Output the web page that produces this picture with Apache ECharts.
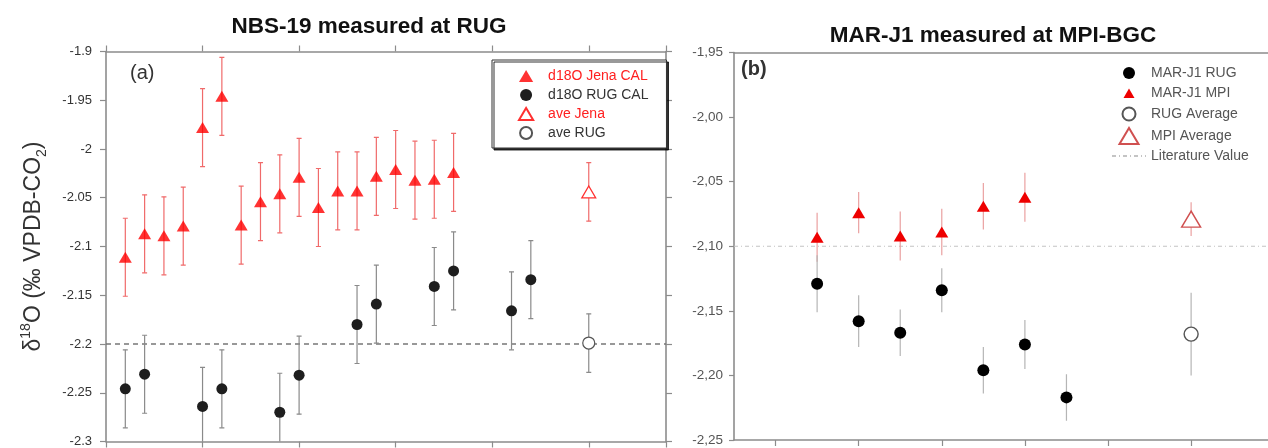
<!DOCTYPE html>
<html>
<head>
<meta charset="utf-8">
<script src="https://cdn.jsdelivr.net/npm/echarts@6/dist/echarts.min.js"></script>
<style>
  html, body { margin: 0; padding: 0; background: #fff; }
  #chart { width: 1268px; height: 448px; }
</style>
</head>
<body>
<div id="chart"></div>
<script>
// ---- panel (a): NBS-19 measured at RUG ----
const jenaX = [1, 2, 3, 4, 5, 6, 7, 8, 9, 10, 11, 12, 13, 14, 15, 16, 17, 18];
const jenaY = [-2.111, -2.087, -2.089, -2.079, -1.978, -1.946, -2.078, -2.054, -2.046,
               -2.029, -2.060, -2.043, -2.043, -2.028, -2.021, -2.032, -2.031, -2.024];
const jenaErr = [0.04, 0.04, 0.04, 0.04, 0.04, 0.04, 0.04, 0.04, 0.04,
                 0.04, 0.04, 0.04, 0.04, 0.04, 0.04, 0.04, 0.04, 0.04];
const rugX = [1, 2, 5, 6, 9, 10, 13, 14, 17, 18, 21, 22];
const rugY = [-2.246, -2.231, -2.264, -2.246, -2.270, -2.232, -2.180, -2.159, -2.141, -2.125, -2.166, -2.134];
const rugErr = [0.04, 0.04, 0.04, 0.04, 0.04, 0.04, 0.04, 0.04, 0.04, 0.04, 0.04, 0.04];
const aveJena = [25, -2.044, 0.03];   // x, value, error
const aveRug = [25, -2.199, 0.03];
const refA = -2.2;

// ---- panel (b): MAR-J1 measured at MPI-BGC ----
const mpiX = [2, 3, 4, 5, 6, 7];
const mpiY = [-2.093, -2.074, -2.092, -2.089, -2.069, -2.062];
const mpiErr = [0.019, 0.016, 0.019, 0.018, 0.018, 0.019];
const rugBX = [2, 3, 4, 5, 6, 7, 8];
const rugBY = [-2.129, -2.158, -2.167, -2.134, -2.196, -2.176, -2.217];
const rugBErr = [0.022, 0.020, 0.018, 0.017, 0.018, 0.019, 0.018];
const rugAvgB = [11, -2.168, 0.032];
const mpiAvgB = [11, -2.079, 0.013];
const literature = -2.10;
const bTicks = [1, 3, 5, 7, 9, 11];

const FONT = 'Liberation Sans, Arial, Helvetica, sans-serif';
const AXIS_COLOR = '#8c8c8c';

// legend icons (the leading moves keep a fixed box so the mark keeps its size)
const TRI = 'path://M0,11L6.5,0L13,11Z';
const TRI_SMALL = 'path://M0,0M16,16M2.5,13L8,3.5L13.5,13Z';
const TRI_BIG = 'path://M0,16L9.5,0L19,16Z';
const DOT_12 = 'path://M0,0M16,16M8,2A6,6,0,1,1,8,14A6,6,0,1,1,8,2Z';
const DOT_13 = 'path://M0,0M16,16M8,1.5A6.5,6.5,0,1,1,8,14.5A6.5,6.5,0,1,1,8,1.5Z';

const chart = echarts.init(document.getElementById('chart'));

function pts(xs, ys) { return xs.map((x, i) => [x, ys[i]]); }
function bars(xs, ys, es) { return xs.map((x, i) => [x, ys[i] - es[i], ys[i] + es[i]]); }

function errorSeries(data, xi, yi, color, cap) {
  return {
    type: 'custom',
    xAxisIndex: xi,
    yAxisIndex: yi,
    clip: true,
    silent: true,
    z: 1,
    data: data,
    encode: { x: 0, y: [1, 2] },
    renderItem: function (params, api) {
      const x = api.value(0);
      const lo = api.coord([x, api.value(1)]);
      const hi = api.coord([x, api.value(2)]);
      const style = { stroke: color, lineWidth: 1.2 };
      const children = [{ type: 'line', shape: { x1: lo[0], y1: lo[1], x2: hi[0], y2: hi[1] }, style: style }];
      if (cap) {
        children.push({ type: 'line', shape: { x1: lo[0] - cap, y1: lo[1], x2: lo[0] + cap, y2: lo[1] }, style: style });
        children.push({ type: 'line', shape: { x1: hi[0] - cap, y1: hi[1], x2: hi[0] + cap, y2: hi[1] }, style: style });
      }
      return { type: 'group', children: children };
    }
  };
}

function frameAxis(extra) {
  return Object.assign({
    type: 'value',
    axisLine: { show: true, onZero: false, lineStyle: { color: AXIS_COLOR, width: 1.6 } },
    axisTick: { show: true, inside: false, length: 6, lineStyle: { color: AXIS_COLOR, width: 1.2 } },
    axisLabel: { show: false },
    splitLine: { show: false }
  }, extra);
}

const option = {
  animation: false,
  textStyle: { fontFamily: FONT },
  title: [
    {
      text: 'NBS-19 measured at RUG',
      left: 364, top: 10, textAlign: 'center',
      textStyle: { fontSize: 22.5, fontWeight: 'bold', color: '#111', fontFamily: FONT }
    },
    {
      text: 'MAR-J1 measured at MPI-BGC',
      left: 988, top: 19, textAlign: 'center',
      textStyle: { fontSize: 22.5, fontWeight: 'bold', color: '#111', fontFamily: FONT }
    }
  ],
  grid: [
    { left: 106, top: 51.5, width: 560, height: 391.5 },
    { left: 734, top: 52.5, width: 534, height: 387.5 }
  ],
  legend: [
    {
      orient: 'vertical',
      left: 492, top: 60,
      padding: [9, 18, 8, 26],
      itemWidth: 34, itemHeight: 12, itemGap: 5,
      backgroundColor: '#fff',
      borderColor: '#333', borderWidth: 1,
      shadowColor: 'rgba(0,0,0,0.8)', shadowOffsetX: 2, shadowOffsetY: 2, shadowBlur: 0,
      selectedMode: false,
      textStyle: { fontSize: 14, fontFamily: FONT },
      data: [
        { name: 'd18O Jena CAL', icon: TRI, textStyle: { color: '#ff2020' } },
        { name: 'd18O RUG CAL', textStyle: { color: '#333' } },
        { name: 'ave Jena', icon: TRI, textStyle: { color: '#ff2020' } },
        { name: 'ave RUG', textStyle: { color: '#333' } }
      ]
    },
    {
      orient: 'vertical',
      left: 1111, top: 65,
      padding: 0,
      itemWidth: 34, itemHeight: 16, itemGap: 4,
      selectedMode: false,
      textStyle: { fontSize: 14, color: '#555', fontFamily: FONT },
      data: [
        { name: 'MAR-J1 RUG', icon: DOT_12 },
        { name: 'MAR-J1 MPI', icon: TRI_SMALL },
        { name: 'RUG Average', icon: DOT_13 },
        { name: 'MPI Average', icon: TRI_BIG },
        { name: 'Literature Value' }
      ]
    }
  ],
  xAxis: [
    frameAxis({ gridIndex: 0, position: 'bottom', min: 0, max: 29, interval: 5 }),
    frameAxis({ gridIndex: 0, position: 'top', min: 0, max: 29, interval: 5 }),
    frameAxis({ gridIndex: 1, position: 'bottom', min: 0, max: 12.85,
      axisTick: { show: true, inside: false, length: 6, customValues: bTicks, lineStyle: { color: AXIS_COLOR, width: 1.2 } } }),
    frameAxis({ gridIndex: 1, position: 'top', min: 0, max: 12.85, axisTick: { show: false } })
  ],
  yAxis: [
    frameAxis({
      gridIndex: 0, position: 'left', min: -2.3, max: -1.9, interval: 0.05,
      axisLabel: { show: true, fontSize: 13, color: '#333', margin: 14, fontFamily: FONT },
      name: '{a|δ}{sup|18}{a|O (‰ VPDB-CO}{sub|2}{a|)}',
      nameLocation: 'middle', nameRotate: 90, nameGap: 57,
      nameTextStyle: {
        color: '#333', fontSize: 23, fontFamily: FONT,
        rich: {
          a: { fontSize: 23, color: '#333', lineHeight: 30, fontFamily: FONT },
          sup: { fontSize: 14, color: '#333', lineHeight: 14, verticalAlign: 'top', fontFamily: FONT },
          sub: { fontSize: 14, color: '#333', lineHeight: 14, verticalAlign: 'bottom', fontFamily: FONT }
        }
      }
    }),
    frameAxis({ gridIndex: 0, position: 'right', min: -2.3, max: -1.9, interval: 0.05 }),
    frameAxis({
      gridIndex: 1, position: 'left', min: -2.25, max: -1.95, interval: 0.05,
      axisTick: { show: true, inside: false, length: 5, lineStyle: { color: AXIS_COLOR, width: 1.2 } },
      axisLabel: {
        show: true, fontSize: 13.5, color: '#555', margin: 11, fontFamily: FONT,
        formatter: v => v.toFixed(2).replace('.', ',')
      }
    })
  ],
  graphic: [
    { type: 'text', left: 130, top: 63, style: { text: '(a)', font: '20px ' + FONT, fill: '#333' } },
    { type: 'text', left: 741, top: 59, style: { text: '(b)', font: 'bold 20px ' + FONT, fill: '#333' } }
  ],
  series: [
    // ---- panel (a)
    {
      name: 'ref a', type: 'line', xAxisIndex: 0, yAxisIndex: 0, symbol: 'none', silent: true, z: 0,
      lineStyle: { color: '#777', width: 1.5, type: [5, 4] },
      data: [[0, refA], [29, refA]]
    },
    errorSeries(bars(jenaX, jenaY, jenaErr), 0, 0, '#f06a6a', 2.5),
    errorSeries(bars(rugX, rugY, rugErr), 0, 0, '#8a8a8a', 2.5),
    errorSeries([[aveJena[0], aveJena[1] - aveJena[2], aveJena[1] + aveJena[2]]], 0, 0, '#f06a6a', 2.5),
    errorSeries([[aveRug[0], aveRug[1] - aveRug[2], aveRug[1] + aveRug[2]]], 0, 0, '#8a8a8a', 2.5),
    {
      name: 'd18O Jena CAL', type: 'scatter', xAxisIndex: 0, yAxisIndex: 0, z: 3,
      symbol: 'triangle', symbolSize: [13, 11],
      itemStyle: { color: '#ff0000' },
      data: pts(jenaX, jenaY)
    },
    {
      name: 'd18O RUG CAL', type: 'scatter', xAxisIndex: 0, yAxisIndex: 0, z: 3,
      symbol: 'circle', symbolSize: 11,
      itemStyle: { color: '#1e1e1e', opacity: 1 },
      data: pts(rugX, rugY)
    },
    {
      name: 'ave Jena', type: 'scatter', xAxisIndex: 0, yAxisIndex: 0, z: 3,
      symbol: 'triangle', symbolSize: [14, 12],
      itemStyle: { color: '#fff', borderColor: '#ff3030', borderWidth: 1.2, opacity: 1 },
      data: [[aveJena[0], aveJena[1]]]
    },
    {
      name: 'ave RUG', type: 'scatter', xAxisIndex: 0, yAxisIndex: 0, z: 3,
      symbol: 'circle', symbolSize: 12,
      itemStyle: { color: '#fff', borderColor: '#555', borderWidth: 1.2, opacity: 1 },
      data: [[aveRug[0], aveRug[1]]]
    },
    // ---- panel (b)
    {
      name: 'Literature Value', type: 'line', xAxisIndex: 2, yAxisIndex: 2,
      symbol: 'none', showSymbol: false, silent: true, z: 0,
      itemStyle: { color: '#c4c4c4', opacity: 0 },
      lineStyle: { color: '#c4c4c4', width: 1.2, type: [4, 3, 1, 3], opacity: 1 },
      data: [[0, literature], [12.85, literature]]
    },
    errorSeries(bars(mpiX, mpiY, mpiErr), 2, 2, '#eaa0a0', 0),
    errorSeries(bars(rugBX, rugBY, rugBErr), 2, 2, '#b5b5b5', 0),
    errorSeries([[rugAvgB[0], rugAvgB[1] - rugAvgB[2], rugAvgB[1] + rugAvgB[2]]], 2, 2, '#b5b5b5', 0),
    errorSeries([[mpiAvgB[0], mpiAvgB[1] - mpiAvgB[2], mpiAvgB[1] + mpiAvgB[2]]], 2, 2, '#eaa0a0', 0),
    {
      name: 'MAR-J1 RUG', type: 'scatter', xAxisIndex: 2, yAxisIndex: 2, z: 3,
      symbol: 'circle', symbolSize: 12,
      itemStyle: { color: '#000', opacity: 1 },
      data: pts(rugBX, rugBY)
    },
    {
      name: 'MAR-J1 MPI', type: 'scatter', xAxisIndex: 2, yAxisIndex: 2, z: 3,
      symbol: 'triangle', symbolSize: [13, 11],
      itemStyle: { color: '#ee0000', opacity: 1 },
      data: pts(mpiX, mpiY)
    },
    {
      name: 'RUG Average', type: 'scatter', xAxisIndex: 2, yAxisIndex: 2, z: 3,
      symbol: 'circle', symbolSize: 14,
      itemStyle: { color: '#fff', borderColor: '#555', borderWidth: 1.4, opacity: 1 },
      data: [[rugAvgB[0], rugAvgB[1]]]
    },
    {
      name: 'MPI Average', type: 'scatter', xAxisIndex: 2, yAxisIndex: 2, z: 3,
      symbol: 'triangle', symbolSize: [19, 16],
      itemStyle: { color: '#fff', borderColor: '#d05050', borderWidth: 1.4, opacity: 1 },
      data: [[mpiAvgB[0], mpiAvgB[1]]]
    }
  ]
};

chart.setOption(option);
window.addEventListener('resize', () => chart.resize());
</script>
</body>
</html>
